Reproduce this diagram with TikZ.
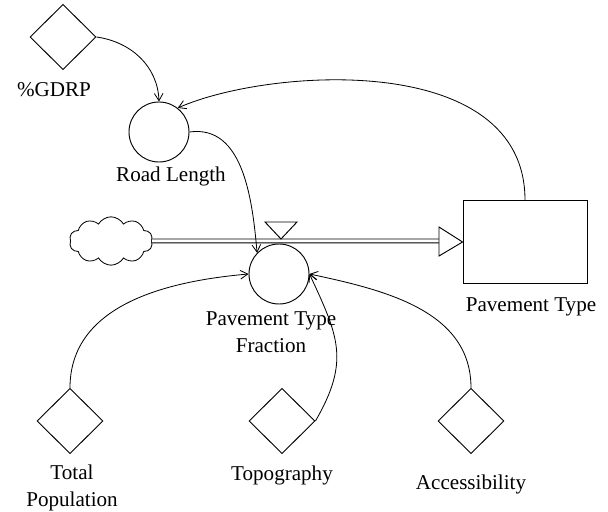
\documentclass[tikz,border=0pt]{standalone}
\usepackage{fontspec}
\setmainfont{Liberation Serif}
\usetikzlibrary{shapes.geometric,shapes.symbols,arrows.meta}
\begin{document}
\begin{tikzpicture}[x=0.03cm,y=-0.03cm,
  every node/.style={font=\fontsize{18pt}{23pt}\selectfont},
  aux/.style={draw, shape=diamond, inner sep=0pt, minimum width=1.98cm, minimum height=1.96cm, line width=0.8pt},
  conv/.style={draw, circle, inner sep=0pt, minimum size=1.8cm, line width=0.8pt},
  stockbox/.style={draw, rectangle, inner sep=0pt, minimum width=3.72cm, minimum height=2.49cm, line width=0.75pt},
  lbl/.style={align=center, inner sep=0pt},
  link/.style={line width=0.7pt, -{Straight Barb[length=2.2mm,width=2.6mm,line width=0.7pt]}},
  pipe/.style={draw, line width=0.7pt, double, double distance=0.09cm}
]
\useasboundingbox (0,0) rectangle (608,512);

% nodes
\node[aux] (gdrp) at (63,37) {};
\node[lbl] (gdrpl) at (54,90) {\%GDRP};
\node[conv] (road) at (159,132) {};
\node[lbl] (roadl) at (171,176) {Road Length};
\node[draw, cloud, cloud puffs=10, cloud puff arc=120, cloud ignores aspect, inner sep=0pt,
      minimum width=2.5cm, minimum height=1.45cm, line width=0.7pt] (cloud) at (111,241) {};
\node[stockbox] (stock) at (525,242) {};
\node[lbl] (stockl) at (531,307) {Pavement Type};
\node[conv] (ptf) at (279,274) {};
\node[lbl] (ptfl) at (271,332) {Pavement Type\\Fraction};
\node[aux] (tp) at (70,421) {};
\node[lbl] (tpl) at (72,488) {Total\\Population};
\node[aux] (topo) at (282,421) {};
\node[lbl] (topol) at (282,475) {Topography};
\node[aux] (acc) at (471,421) {};
\node[lbl] (accl) at (471,484) {Accessibility};

% flow pipe
\coordinate (pipeend) at (439,241);
\draw[pipe] (cloud.east) -- (pipeend);
\draw[line width=0.8pt, fill=white] (439,227) -- (stock.west) -- (439,256) -- cycle;
% valve
\draw[line width=0.8pt, fill=white] (265,222) -- (297,222) -- (281,239) -- cycle;

% links
\draw[link] (gdrp.east) to[out=-8,in=92] (road.north);
\draw[link] (stock.north) .. controls +(0,-150) and +(90,-40) .. (road.52);
\draw[link] (road.east) to[out=8,in=95] (ptf.136);
\draw[link] (tp.north) to[out=90,in=185] (ptf.west);
\draw[link] (topo.east) to[out=60,in=-65,looseness=1.2] (ptf.east);
\draw[link] (acc.north) to[out=90,in=-12] (ptf.east);
\end{tikzpicture}
\end{document}
